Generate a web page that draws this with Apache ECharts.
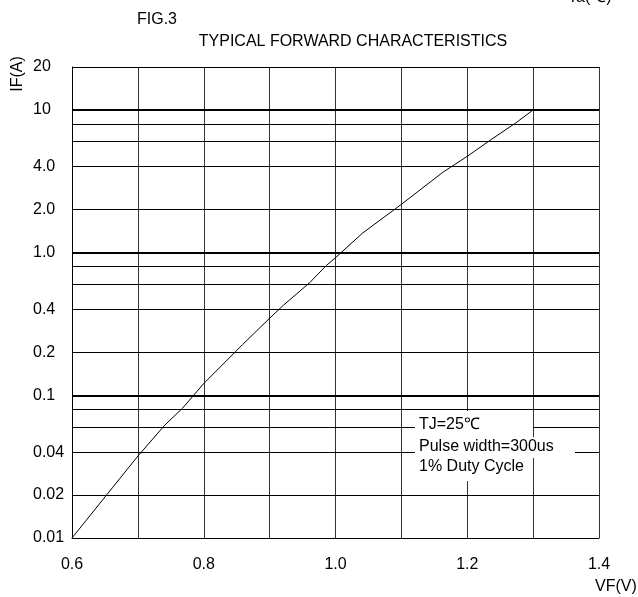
<!DOCTYPE html>
<html>
<head>
<meta charset="utf-8">
<script src="https://cdn.jsdelivr.net/npm/echarts@6/dist/echarts.min.js"></script>
<style>
html,body{margin:0;padding:0;background:#fff;}
#c{width:638px;height:597px;}
</style>
</head>
<body>
<div id="c"></div>
<script>
// Forward voltage VF (V) and forward current IF (A)
var vfValues = [0.6, 0.662, 0.7, 0.741, 0.768, 0.8, 0.859, 0.9, 0.921, 0.961, 0.986, 1.0, 1.041, 1.1, 1.163, 1.2, 1.236, 1.274, 1.3];
var ifValues = [0.01, 0.0227, 0.0375, 0.0619, 0.0814, 0.121, 0.227, 0.347, 0.428, 0.617, 0.812, 0.921, 1.37, 2.18, 3.66, 4.73, 6.19, 8.13, 10];
// Horizontal grid lines of the log axis and their tick labels
var yGridValues = [0.01, 0.02, 0.04, 0.06, 0.08, 0.1, 0.2, 0.4, 0.6, 0.8, 1, 2, 4, 6, 8, 10, 20];
var yTickLabels = {"0.01": "0.01", "0.02": "0.02", "0.04": "0.04", "0.1": "0.1", "0.2": "0.2", "0.4": "0.4", "1": "1.0", "2": "2.0", "4": "4.0", "10": "10", "20": "20"};
var decadeValues = [0.1, 1, 10];
var xTickLabels = ["0.6", "0.8", "1.0", "1.2", "1.4"];

var chart = echarts.init(document.getElementById('c'), null, {renderer: 'canvas'});
var font = 'Liberation Sans, Arial, sans-serif';
var fs = 16;

var curve = vfValues.map(function (v, i) { return [v, ifValues[i]]; });

var gridLines = yGridValues.map(function (v) {
  var key = String(v);
  var isDecade = decadeValues.indexOf(v) >= 0;
  return {
    yAxis: v,
    lineStyle: {color: '#000', width: isDecade ? 1.8 : 1, type: 'solid'},
    label: {
      show: !!yTickLabels[key],
      formatter: yTickLabels[key] || '',
      position: 'start',
      distance: 39,
      align: 'left',
      verticalAlign: 'middle',
      color: '#000',
      fontSize: fs,
      fontFamily: font
    }
  };
});

var option = {
  animation: false,
  backgroundColor: '#fff',
  grid: {left: 72, right: 39, top: 67, bottom: 59, containLabel: false},
  xAxis: {
    type: 'value',
    min: 0.6,
    max: 1.4,
    interval: 0.1,
    axisLine: {show: true, lineStyle: {color: '#000', width: 1}},
    axisTick: {show: false},
    splitLine: {show: true, lineStyle: {color: '#333', width: 1}},
    axisLabel: {
      margin: 19,
      color: '#000',
      fontSize: fs,
      fontFamily: font,
      formatter: function (v) {
        var s = v.toFixed(1);
        return xTickLabels.indexOf(s) >= 0 ? s : '';
      }
    }
  },
  yAxis: {
    type: 'log',
    logBase: 10,
    min: 0.01,
    max: 20,
    axisLine: {show: true, lineStyle: {color: '#000', width: 1}},
    axisTick: {show: false},
    axisLabel: {show: false},
    splitLine: {show: false}
  },
  series: [{
    type: 'line',
    data: curve,
    symbol: 'none',
    smooth: false,
    lineStyle: {color: '#000', width: 1},
    z: 5,
    markLine: {
      silent: true,
      symbol: ['none', 'none'],
      animation: false,
      data: gridLines,
      z: 1
    }
  }],
  graphic: [
    {type: 'rect', left: 415, top: 411, z: 100, shape: {width: 118, height: 70}, style: {fill: '#fff'}},
    {type: 'rect', left: 415, top: 437, z: 100, shape: {width: 160, height: 21}, style: {fill: '#fff'}},
    {type: 'text', x: 419, y: 425, z: 101, style: {text: 'TJ=25℃', font: fs + 'px ' + font, fill: '#000', verticalAlign: 'middle'}},
    {type: 'text', x: 419, y: 446.5, z: 101, style: {text: 'Pulse width=300us', font: fs + 'px ' + font, fill: '#000', verticalAlign: 'middle'}},
    {type: 'text', x: 419, y: 467, z: 101, style: {text: '1% Duty Cycle', font: fs + 'px ' + font, fill: '#000', verticalAlign: 'middle'}},
    {type: 'text', x: 353, y: 42, z: 101, style: {text: 'TYPICAL FORWARD CHARACTERISTICS', font: fs + 'px ' + font, fill: '#000', align: 'center', verticalAlign: 'middle'}},
    {type: 'text', x: 137, y: 20, z: 101, style: {text: 'FIG.3', font: fs + 'px ' + font, fill: '#000', align: 'left', verticalAlign: 'middle'}},
    {type: 'text', x: 568, y: 6, z: 101, style: {text: 'Ta(℃)', font: fs + 'px ' + font, fill: '#000', align: 'left', verticalAlign: 'bottom'}},
    {type: 'text', x: 18, y: 74, rotation: Math.PI / 2, z: 101, style: {text: 'IF(A)', font: fs + 'px ' + font, fill: '#000', align: 'center', verticalAlign: 'middle'}},
    {type: 'text', x: 595, y: 587, z: 101, style: {text: 'VF(V)', font: fs + 'px ' + font, fill: '#000', align: 'left', verticalAlign: 'middle'}}
  ]
};
chart.setOption(option);
</script>
</body>
</html>
